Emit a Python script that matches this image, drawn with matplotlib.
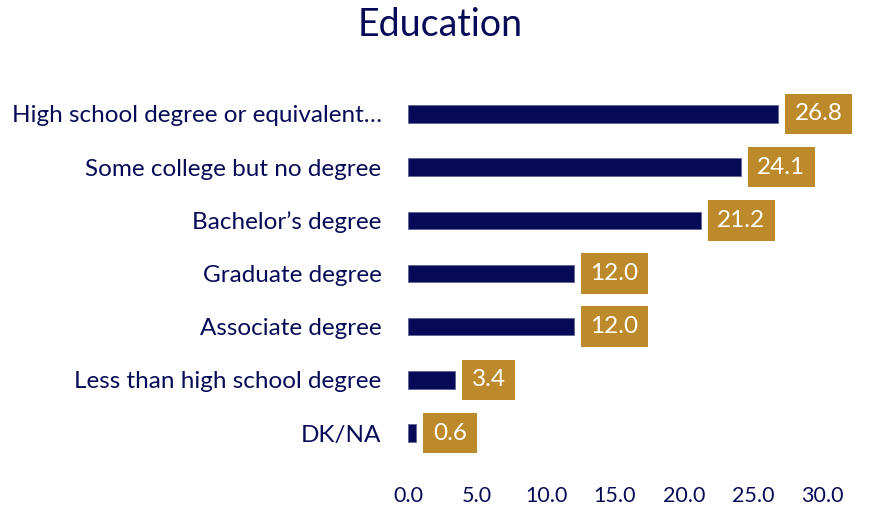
import matplotlib.pyplot as plt

# Data.
categories = ['High school degree or equivalent…', 'Some college but no degree',
              "Bachelor’s degree", 'Graduate degree', 'Associate degree',
              'Less than high school degree', 'DK/NA']
values = [26.8, 24.1, 21.2, 12.0, 12.0, 3.4, 0.6]
xticks = [0, 5, 10, 15, 20, 25, 30]

navy = '#070b57'
gold = '#bc8a2a'

plt.rcParams['font.family'] = ['Lato', 'DejaVu Sans']

fig = plt.figure(figsize=(8.71, 5.08), dpi=100)
ax = fig.add_axes([408 / 871, 1 - 465 / 508, 414 / 871, 383 / 508])

ypos = list(range(len(categories)))[::-1]
ax.barh(ypos, values, height=0.33, color=navy, edgecolor='#5a5d8f', linewidth=0.5)

for y, v in zip(ypos, values):
    ax.annotate('%.1f' % v, xy=(v, y), xytext=(12, 0), textcoords='offset points',
                ha='left', va='center', color='white', fontsize=17.5,
                bbox=dict(boxstyle='square,pad=0.4', fc=gold, ec='none'),
                annotation_clip=False)

ax.set_xlim(0, 30)
ax.set_ylim(-0.6, 6.6)
ax.set_yticks(ypos)
ax.set_yticklabels(categories, fontsize=17.5, color=navy)
ax.set_xticks(xticks)
ax.set_xticklabels(['%.1f' % t for t in xticks], fontsize=15.5, color=navy)
ax.tick_params(length=0, pad=15, axis='x')
ax.tick_params(length=0, pad=19, axis='y')
for s in ax.spines.values():
    s.set_visible(False)

fig.text(440 / 871, 1 - 25 / 508, 'Education', ha='center', va='center',
         fontsize=27, color=navy)

plt.savefig('out.png', dpi=100)
